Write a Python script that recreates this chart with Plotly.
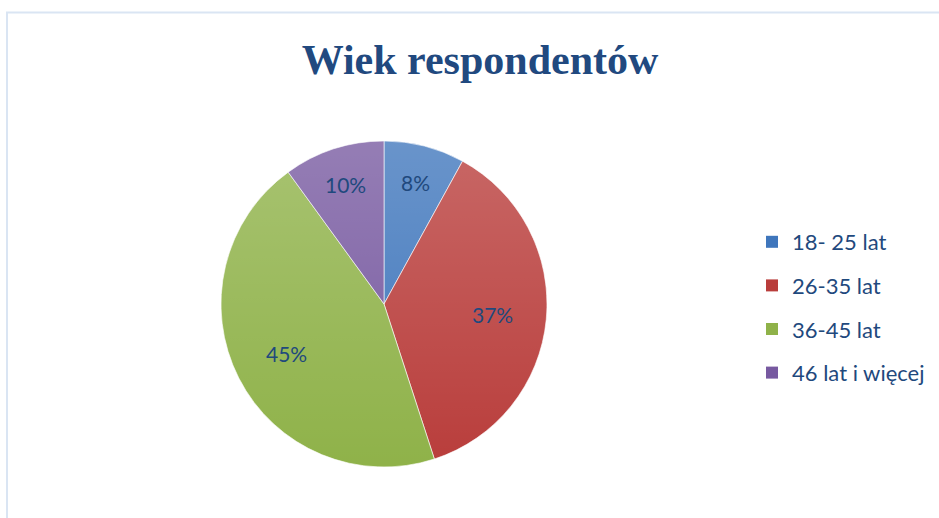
import base64
import math
import plotly.graph_objects as go

# Age structure of survey respondents
categories = ["18- 25 lat", "26-35 lat", "36-45 lat", "46 lat i więcej"]
shares = [8, 37, 45, 10]
colors = ["#3F76BC", "#B93D3B", "#8FB249", "#7759A0"]

title_text = "Wiek respondentów"
text_color = "#1F497D"

W, H = 939, 518
cx, cy, r = 384, 304, 163  # pie centre and radius in pixels

fig = go.Figure()

fig.add_trace(go.Pie(
    labels=categories,
    values=shares,
    sort=False,
    direction="clockwise",
    rotation=0,
    marker=dict(colors=colors, line=dict(color="rgba(255,255,255,0.6)", width=1)),
    textinfo="none",
    showlegend=False,
    hoverinfo="label+percent",
    domain=dict(x=[(cx - r) / W, (cx + r) / W],
                y=[(H - cy - r) / H, (H - cy + r) / H]),
))

# percentage labels placed at each slice's mid-angle
total = sum(shares)
start = 0.0
for v in shares:
    frac = v / total
    mid = 2 * math.pi * (start + frac / 2)
    rf = 0.77 if frac < 0.15 else 0.67
    px = cx + rf * r * math.sin(mid)
    py = cy - rf * r * math.cos(mid)
    fig.add_annotation(
        x=px / W, y=(H - py) / H, xref="paper", yref="paper",
        text=f"{round(frac * 100)}%", showarrow=False,
        xanchor="center", yanchor="middle",
        font=dict(family="Lato", size=21, color=text_color),
    )
    start += frac

# legend entries (one group each so the rows can be spaced apart)
for name, col in zip(categories, colors):
    fig.add_trace(go.Scatter(
        x=[None], y=[None], mode="markers", name=name,
        legendgroup=name,
        marker=dict(symbol="square", size=12, color=col),
    ))

# soft vertical light-to-dark sheen over the pie
svg = (
    '<svg xmlns="http://www.w3.org/2000/svg" width="100" height="100" preserveAspectRatio="none">'
    '<defs><linearGradient id="g" x1="0" y1="0" x2="0" y2="1">'
    '<stop offset="0" stop-color="#ffffff" stop-opacity="0.22"/>'
    '<stop offset="1" stop-color="#ffffff" stop-opacity="0"/>'
    '</linearGradient></defs>'
    '<rect width="100" height="100" fill="url(#g)"/></svg>'
)
sheen = "data:image/svg+xml;base64," + base64.b64encode(svg.encode()).decode()
fig.add_layout_image(dict(
    source=sheen, xref="paper", yref="paper",
    x=(cx - r) / W, y=(H - cy + r) / H,
    sizex=2 * r / W, sizey=2 * r / H,
    xanchor="left", yanchor="top", sizing="stretch", layer="above",
))

# chart-area frame
fig.add_shape(type="rect", xref="paper", yref="paper",
              x0=7 / W, x1=1.05, y0=-0.05, y1=(H - 12.5) / H,
              line=dict(color="#DAE5F3", width=2), fillcolor="rgba(0,0,0,0)")

fig.update_layout(
    width=W, height=H,
    margin=dict(l=0, r=0, t=0, b=0),
    paper_bgcolor="white", plot_bgcolor="white",
    title=dict(text=f"<b>{title_text}</b>", x=480 / W, xanchor="center",
               y=(H - 59) / H, yanchor="middle",
               font=dict(family="Liberation Serif", size=42, color="#21497F")),
    xaxis=dict(visible=False), yaxis=dict(visible=False),
    legend=dict(x=752 / W, xanchor="left", y=(H - 221) / H, yanchor="top",
                font=dict(family="Lato", size=22, color=text_color),
                tracegroupgap=12, itemclick=False, bgcolor="rgba(0,0,0,0)"),
)

fig.write_html("out.html")
